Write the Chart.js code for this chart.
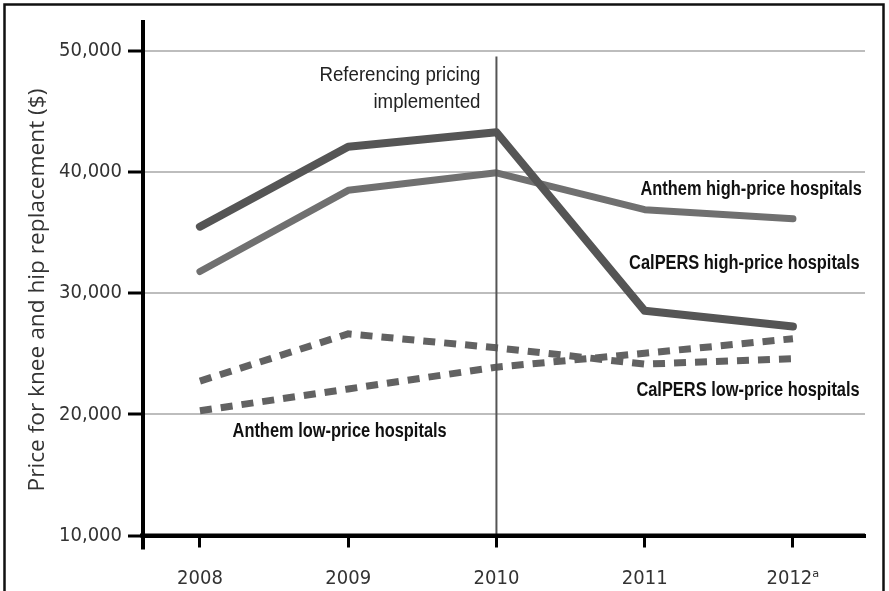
<!DOCTYPE html>
<html><head><meta charset="utf-8">
<script src="https://cdn.jsdelivr.net/npm/chart.js@4.4.1/dist/chart.umd.min.js"></script>
<style>html,body{margin:0;padding:0;background:#fff;}#wrap{width:889px;height:591px;position:relative;}</style>
</head><body><div id="wrap"><canvas id="c" width="889" height="591"></canvas></div>
<script>
const years = [2008, 2009, 2010, 2011, 2012];
const yearLabels = ['2008', '2009', '2010', '2011', '2012\u1d43'];
const calpersHigh = [35500, 42100, 43300, 28550, 27250];
const anthemHigh = [31800, 38500, 39950, 36900, 36150];
const calpersLow = [22750, 26650, 25500, 24150, 24600];
const anthemLow = [20300, 22100, 23900, 25050, 26250];
const yTicks = [10000, 20000, 30000, 40000, 50000];
const seriesNames = ['CalPERS high-price hospitals', 'Anthem high-price hospitals', 'CalPERS low-price hospitals', 'Anthem low-price hospitals'];
const yTitle = 'Price for knee and hip replacement ($)';
const eventYear = 2010;
const eventText = ['Referencing pricing', 'implemented'];

const toPts = arr => arr.map((v, i) => ({x: years[i], y: v}));
const condFamily = '"DejaVu Sans Condensed", "Liberation Sans", sans-serif';

function narrowText(ctx, text, x, y, align, font, sx, rot) {
  ctx.save();
  ctx.font = font;
  ctx.textBaseline = 'middle';
  ctx.textAlign = align;
  ctx.translate(x, y);
  if (rot) ctx.rotate(rot);
  ctx.scale(sx, 1);
  ctx.fillText(text, 0, 0);
  ctx.restore();
}

const decor = {
  id: 'decor',
  beforeDraw(chart) {
    const ctx = chart.ctx;
    ctx.save();
    ctx.fillStyle = '#fff';
    ctx.fillRect(0, 0, chart.width, chart.height);
    ctx.strokeStyle = '#111';
    ctx.lineWidth = 2.5;
    ctx.strokeRect(4.5, 4.5, 879, 620);
    ctx.fillStyle = '#333';
    narrowText(ctx, yTitle, 38, 290, 'center', '22px "Open Sans"', 1.03, -Math.PI / 2);
    ctx.restore();
  },
  afterDatasetsDraw(chart) {
    const ctx = chart.ctx, xs = chart.scales.x, ys = chart.scales.y;
    ctx.save();
    const ex = xs.getPixelForValue(eventYear);
    ctx.strokeStyle = '#555';
    ctx.lineWidth = 2;
    ctx.beginPath();
    ctx.moveTo(ex, ys.getPixelForValue(49550));
    ctx.lineTo(ex, ys.getPixelForValue(10000));
    ctx.stroke();
    ctx.fillStyle = '#222';
    narrowText(ctx, eventText[0], ex - 16, 75, 'right', '21px "Liberation Sans"', 0.89);
    narrowText(ctx, eventText[1], ex - 16, 102, 'right', '21px "Liberation Sans"', 0.89);
    const labs = [
      {t: seriesNames[1], x: 2012.465, y: 38550, a: 'right'},
      {t: seriesNames[0], x: 2012.45, y: 32500, a: 'right'},
      {t: seriesNames[2], x: 2012.45, y: 22000, a: 'right'},
      {t: seriesNames[3], x: 2008.22, y: 18550, a: 'left'}
    ];
    ctx.fillStyle = '#111';
    labs.forEach(l => {
      narrowText(ctx, l.t, xs.getPixelForValue(l.x), ys.getPixelForValue(l.y), l.a, 'bold 20px "Liberation Sans"', 0.82);
    });
    ctx.strokeStyle = '#000';
    ctx.lineWidth = 4;
    ctx.beginPath();
    ctx.moveTo(xs.left, ys.bottom);
    ctx.lineTo(xs.left, ys.bottom + 14);
    ctx.stroke();
    ctx.beginPath();
    ctx.moveTo(xs.left - 3, ys.bottom);
    ctx.lineTo(xs.right, ys.bottom);
    ctx.stroke();
    ctx.restore();
  }
};

const solid = (data, color, w) => ({
  data: toPts(data), borderColor: color, borderWidth: w, pointRadius: 0,
  tension: 0, fill: false, borderCapStyle: 'round', borderJoinStyle: 'round'
});
const dashed = (data, color, w) => ({
  data: toPts(data), borderColor: color, borderWidth: w, pointRadius: 0,
  tension: 0, fill: false, borderDash: [12, 9], borderCapStyle: 'butt', borderJoinStyle: 'miter'
});

new Chart(document.getElementById('c'), {
  type: 'line',
  data: {
    datasets: [
      Object.assign({label: seriesNames[0]}, solid(calpersHigh, '#555555', 8)),
      Object.assign({label: seriesNames[1]}, solid(anthemHigh, '#707070', 7)),
      Object.assign({label: seriesNames[2]}, dashed(calpersLow, '#626262', 7)),
      Object.assign({label: seriesNames[3]}, dashed(anthemLow, '#626262', 7))
    ]
  },
  options: {
    responsive: false, animation: false, devicePixelRatio: 1,
    layout: {padding: {left: 0, right: 24, top: 22, bottom: 0}},
    plugins: {legend: {display: false}, tooltip: {enabled: false}},
    scales: {
      x: {
        type: 'linear', min: 2007.616, max: 2012.486,
        afterBuildTicks: s => { s.ticks = years.map(v => ({value: v})); },
        afterFit: s => { s.height = 55.5; },
        ticks: {
          callback: (v) => yearLabels[years.indexOf(v)],
          font: {family: condFamily, size: 20}, color: '#333', padding: 19,
          maxRotation: 0, autoSkip: false
        },
        grid: {drawOnChartArea: false, drawTicks: true, tickLength: 12, tickColor: '#000', tickWidth: 3},
        border: {color: '#000', width: 4}
      },
      y: {
        min: 10000, max: 52400,
        afterBuildTicks: s => { s.ticks = yTicks.map(v => ({value: v})); },
        afterFit: s => { s.width = 143; },
        ticks: {
          callback: v => v.toLocaleString('en-US'),
          font: {family: condFamily, size: 20}, color: '#333', padding: 6
        },
        grid: {color: '#bdbdbd', lineWidth: 2, drawTicks: true, tickLength: 15, tickColor: '#000', tickWidth: 3},
        border: {color: '#000', width: 4},
        title: {display: false}
      }
    }
  },
  plugins: [decor]
});
</script></body></html>
